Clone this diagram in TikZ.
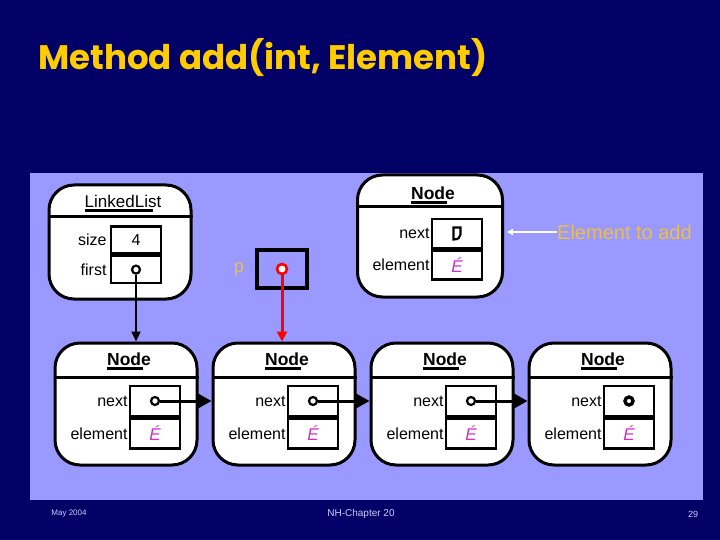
\documentclass[tikz,border=0pt]{standalone}
\usepackage{fontspec}
\setmainfont{Liberation Sans}
\newfontfamily\titlefont{Poppins}
\usetikzlibrary{math,arrows.meta}
\definecolor{navy}{RGB}{0,0,102}
\definecolor{panel}{RGB}{153,153,255}
\definecolor{gold}{RGB}{255,204,0}
\definecolor{sand}{RGB}{236,190,70}
\definecolor{plum}{RGB}{204,51,204}
\definecolor{footer}{RGB}{204,204,255}

\begin{document}
\begin{tikzpicture}[x=1pt,y=-1pt,
        objbox/.style={draw,line width=3pt,fill=white,rounded corners=25pt,minimum width=142pt,minimum height=122pt,inner sep=0pt},
        slot/.style={draw,line width=2.6pt,minimum width=50pt,minimum height=30pt,inner sep=0pt,font=\fontsize{16}{16}\selectfont},
        ptr/.style={circle,draw,line width=2.2pt,fill=white,minimum size=8pt,inner sep=0pt},
        lbl/.style={font=\fontsize{16}{16}\selectfont,inner sep=1pt},
        hd/.style={font=\fontsize{17.5}{17.5}\selectfont\bfseries,inner sep=0pt},
        nextarrow/.style={line width=3pt,-{Triangle[length=15pt,width=16pt]}}
    ]
        \fill[navy] (0,0) rectangle (720,540);
        \useasboundingbox (0,0) rectangle (720,540);
        \fill[panel] (30,173) rectangle (703,500);
        \node[text=gold,font=\titlefont\fontsize{34}{34}\selectfont\bfseries,anchor=west,inner sep=0pt] (title) at (38,58) {Method add(int, Element)};

        \node[objbox,minimum height=114pt] (ll) at (120,242) {};
        \draw[line width=3pt] ([yshift=-33pt]ll.north west) -- ([yshift=-33pt]ll.north east);
        \node[hd,font=\fontsize{17}{17}\selectfont] (llh) at (123,201) {LinkedList};
        \draw[line width=2.6pt] ([yshift=-3pt]llh.south west) -- ([yshift=-3pt,xshift=-8pt]llh.south east);
        \node[slot,minimum height=27pt] (llsz) at (136,240) {4};
        \node[slot,minimum height=27pt,anchor=north] (llfs) at (llsz.south) {};
        \node[lbl,anchor=east,inner sep=3pt] (llszl) at (llsz.west) {size};
        \node[lbl,anchor=east,inner sep=3pt] (llfsl) at (llfs.west) {first};
        \node[ptr] (llp) at (llfs.center) {};

        \node[text=sand,font=\fontsize{18}{18}\selectfont] (plbl) at (239,270) {p};
        \node[slot,minimum height=38pt,line width=3.2pt] (pbox) at (282,269) {};
        \node[ptr,draw=red,line width=2.6pt,minimum size=10pt] (pp) at (pbox.center) {};

        \node[objbox,minimum width=145pt] (nn) at (430,236) {};
        \draw[line width=3pt] ([yshift=-33pt]nn.north west) -- ([yshift=-33pt]nn.north east);
        \node[hd] (nnh) at (433,193) {Node};
        \draw[line width=2.6pt] ([yshift=-3pt]nnh.south west) -- ([yshift=-3pt,xshift=-8pt]nnh.south east);
        \node[slot,minimum height=29pt] (nnnx) at (457,233.5) {};
        \node[slot,minimum height=29pt,anchor=north,text=plum,font=\fontsize{17}{17}\selectfont\itshape] (nnel) at (nnnx.south) {É};
        \node[lbl,anchor=east] (nnnxl) at (nnnx.west) {next};
        \node[lbl,anchor=east] (nnell) at (nnel.west) {element};
        \begin{scope}[shift={(nnnx.center)}]
            \draw[line width=2.2pt,fill=white] (-3.5,-6) -- (3.5,-6) -- (3.5,1) .. controls (3.5,4) and (1,6) .. (-3.5,6) -- cycle;
        \end{scope}
        \node[text=sand,font=\fontsize{20}{20}\selectfont,anchor=west,inner sep=0pt] (addlbl) at (557,232) {Element to add};

        \foreach \k/\w in {1/2.2pt,2/2.2pt,3/2.2pt,4/3.4pt}
        {
            \tikzmath {
                \cx = 126 + 158*(\k - 1);
            };
            \node[objbox] (n\k) at (\cx,404) {};
            \draw[line width=3pt] ([yshift=-36pt]n\k.north west) -- ([yshift=-36pt]n\k.north east);
            \node[hd] (n\k h) at (\cx+3,359) {Node};
            \draw[line width=2.6pt] ([yshift=-3pt]n\k h.south west) -- ([yshift=-3pt,xshift=-8pt]n\k h.south east);
            \node[slot] (n\k nx) at (\cx+29,401) {};
            \node[slot,anchor=north,text=plum,font=\fontsize{17}{17}\selectfont\itshape] (n\k el) at (n\k nx.south) {É};
            \node[lbl,anchor=east] (n\k nxl) at (n\k nx.west) {next};
            \node[lbl,anchor=east] (n\k ell) at (n\k el.west) {element};
            \node[ptr,line width=\w] (n\k p) at (n\k nx.center) {};
        }

        \foreach \k [count=\j from 2] in {1,...,3}
            \draw[nextarrow] (n\k p) -- (n\j.west |- n\k p);
        \draw[line width=2.2pt,-{Triangle[length=10pt,width=9pt]}] (llp) -- (llp |- n1.north);
        \draw[red,line width=3pt,-{Triangle[length=10pt,width=10pt]}] (pp) -- (pp |- n2.north);
        \draw[white,line width=1.5pt,-{Triangle[length=6pt,width=6pt]},shorten >=3pt] (addlbl.west) -- (nn.east |- addlbl.west);

        \node[text=footer,font=\fontsize{8}{8}\selectfont] (date) at (69,514) {May 2004};
        \node[text=footer,font=\fontsize{10}{10}\selectfont] (chap) at (361,514) {NH-Chapter 20};
        \node[text=footer,font=\fontsize{9}{9}\selectfont] (page) at (693,514) {29};
\end{tikzpicture}
\end{document}
